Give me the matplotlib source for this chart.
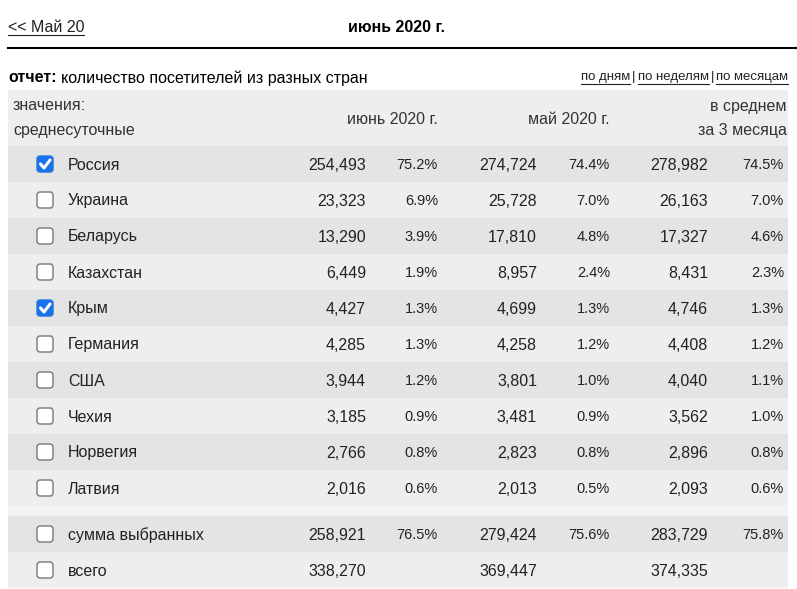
import matplotlib
matplotlib.use("Agg")
import matplotlib.pyplot as plt
from matplotlib.patches import Rectangle, FancyBboxPatch

plt.rcParams["font.family"] = ["Liberation Sans", "DejaVu Sans"]

countries = ["Россия", "Украина", "Беларусь", "Казахстан", "Крым", "Германия",
             "США", "Чехия", "Норвегия", "Латвия"]
checked = [True, False, False, False, True, False, False, False, False, False]
june = ["254,493", "23,323", "13,290", "6,449", "4,427", "4,285", "3,944", "3,185", "2,766", "2,016"]
june_pct = ["75.2%", "6.9%", "3.9%", "1.9%", "1.3%", "1.3%", "1.2%", "0.9%", "0.8%", "0.6%"]
may = ["274,724", "25,728", "17,810", "8,957", "4,699", "4,258", "3,801", "3,481", "2,823", "2,013"]
may_pct = ["74.4%", "7.0%", "4.8%", "2.4%", "1.3%", "1.2%", "1.0%", "0.9%", "0.8%", "0.5%"]
avg = ["278,982", "26,163", "17,327", "8,431", "4,746", "4,408", "4,040", "3,562", "2,896", "2,093"]
avg_pct = ["74.5%", "7.0%", "4.6%", "2.3%", "1.3%", "1.2%", "1.1%", "1.0%", "0.8%", "0.6%"]
totals = [("сумма выбранных", "258,921", "76.5%", "279,424", "75.6%", "283,729", "75.8%"),
          ("всего", "338,270", "", "369,447", "", "374,335", "")]

W, H = 797, 589
fig = plt.figure(figsize=(W / 100, H / 100), dpi=100)
ax = fig.add_axes([0, 0, 1, 1])
ax.set_xlim(0, W)
ax.set_ylim(H, 0)
ax.axis("off")

FS = 11.5
DARK, LIGHT = "#e4e4e4", "#eeeeee"
COLS = [366, 438, 537, 610, 708, 784]


def extent(t):
    fig.canvas.draw()
    return t.get_window_extent().transformed(ax.transData.inverted())


def link(x, y, s, ha="left", fs=FS, uy=None):
    t = ax.text(x, y, s, ha=ha, va="center", fontsize=fs, color="#222222")
    bb = extent(t)
    uy = y + fs * 0.62 if uy is None else uy
    ax.plot([bb.x0, bb.x1], [uy, uy], color="#222222", lw=0.8)
    return bb


def checkbox(y, on):
    if on:
        ax.add_patch(FancyBboxPatch((37, y - 8), 16, 16, boxstyle="round,pad=0,rounding_size=3",
                                    fc="#1a73e8", ec="#1a73e8", lw=1))
        ax.plot([40.5, 44, 50], [y, y + 4, y - 4], color="white", lw=2.2, solid_capstyle="round")
    else:
        ax.add_patch(FancyBboxPatch((37, y - 8), 16, 16, boxstyle="round,pad=0,rounding_size=3",
                                    fc="white", ec="#777777", lw=1))


# top bar
link(8, 28, "<< Май 20")
ax.text(397, 28, "июнь 2020 г.", ha="center", va="center", fontsize=FS, weight="bold")
ax.plot([8, 797], [48, 48], color="black", lw=1.5)

t = ax.text(8, 78, "отчет:", ha="left", va="center", fontsize=FS, weight="bold")
bb = extent(t)
ax.text(bb.x1 + 4, 78, "количество посетителей из разных стран", ha="left", va="center", fontsize=FS)

# right-hand links, laid out right to left
x = 788
for i, s in enumerate(["по месяцам", "по неделям", "по дням"]):
    bb = link(x, 77, s, ha="right", fs=9.5, uy=83.5)
    x = bb.x0
    if i < 2:
        sep = ax.text(x - 2, 77, "|", ha="right", va="center", fontsize=9.5, color="#222222")
        x = extent(sep).x0 - 2

# header
ax.add_patch(Rectangle((8, 90), 780, 56, fc=LIGHT, ec="none"))
ax.text(13, 106, "значения:", ha="left", va="center", fontsize=FS, color="#333333")
ax.text(13, 131, "среднесуточные", ha="left", va="center", fontsize=FS, color="#333333")
ax.text(438, 119, "июнь 2020 г.", ha="right", va="center", fontsize=FS, color="#333333")
ax.text(610, 119, "май 2020 г.", ha="right", va="center", fontsize=FS, color="#333333")
ax.text(787, 106, "в среднем", ha="right", va="center", fontsize=FS, color="#333333")
ax.text(787, 131, "за 3 месяца", ha="right", va="center", fontsize=FS, color="#333333")


def row(y0, color, name, on, vals):
    ax.add_patch(Rectangle((8, y0), 780, 36, fc=color, ec="none"))
    yc = y0 + 18
    checkbox(yc, on)
    ax.text(68, yc + 1, name, ha="left", va="center", fontsize=FS, color="#222222")
    for x, v in zip(COLS, vals):
        small = v.endswith("%")
        ax.text(x, yc + 1, v, ha="right", va="center", fontsize=FS - 1 if small else FS,
                color="#222222")


for i, c in enumerate(countries):
    row(146 + 36 * i, DARK if i % 2 == 0 else LIGHT, c, checked[i],
        [june[i], june_pct[i], may[i], may_pct[i], avg[i], avg_pct[i]])

ax.add_patch(Rectangle((8, 506), 780, 10, fc="#f3f3f3", ec="none"))
row(516, DARK, totals[0][0], False, totals[0][1:])
row(552, LIGHT, totals[1][0], False, totals[1][1:])

fig.savefig("out.png", dpi=100)
